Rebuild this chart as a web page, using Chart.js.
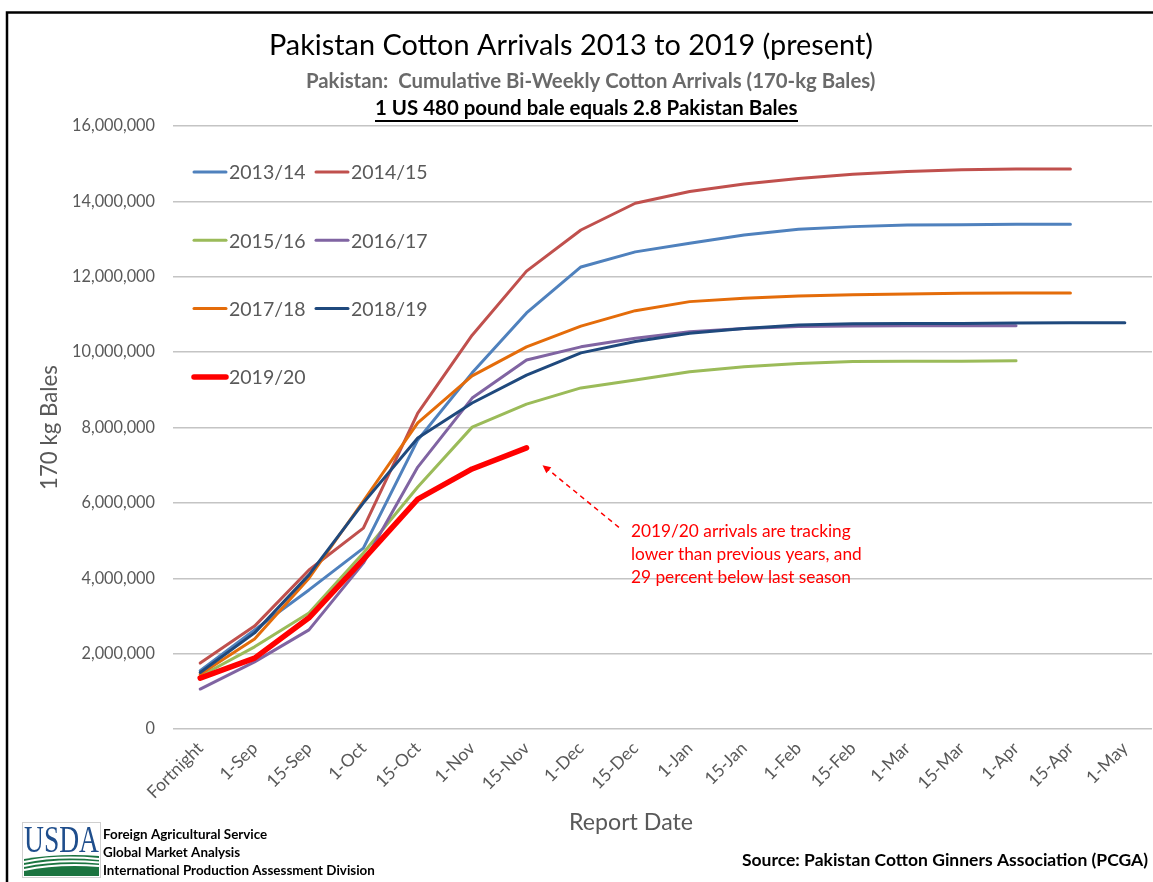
<!DOCTYPE html>
<html>
<head>
<meta charset="utf-8">
<script src="https://cdn.jsdelivr.net/npm/chart.js@4.4.1/dist/chart.umd.min.js"></script>
<style>
  html, body { margin: 0; padding: 0; background: #fff; }
  canvas { display: block; }
</style>
</head>
<body>
<canvas id="arrivalsChart" width="1153" height="882"></canvas>
<script>
// report dates (x categories)
const reportDates = ['Fortnight', '1-Sep', '15-Sep', '1-Oct', '15-Oct', '1-Nov', '15-Nov', '1-Dec',
  '15-Dec', '1-Jan', '15-Jan', '1-Feb', '15-Feb', '1-Mar', '15-Mar', '1-Apr', '15-Apr', '1-May'];

const seasons = ['2013/14', '2014/15', '2015/16', '2016/17', '2017/18', '2018/19', '2019/20'];

// cumulative arrivals, 170-kg bales
const arrivals1314 = [1550000, 2630000, 3690000, 4800000, 7670000, 9450000, 11040000, 12260000, 12660000,
  12890000, 13110000, 13260000, 13330000, 13370000, 13380000, 13390000, 13390000];
const arrivals1415 = [1750000, 2730000, 4220000, 5330000, 8380000, 10450000, 12150000, 13240000, 13950000,
  14260000, 14460000, 14610000, 14720000, 14790000, 14840000, 14860000, 14860000];
const arrivals1516 = [1400000, 2180000, 3080000, 4670000, 6420000, 8010000, 8620000, 9050000, 9260000,
  9480000, 9610000, 9700000, 9750000, 9760000, 9760000, 9770000];
const arrivals1617 = [1060000, 1780000, 2630000, 4400000, 6950000, 8780000, 9790000, 10140000, 10370000,
  10540000, 10630000, 10680000, 10690000, 10700000, 10700000, 10700000];
const arrivals1718 = [1450000, 2390000, 4000000, 6050000, 8120000, 9370000, 10140000, 10690000, 11100000,
  11340000, 11430000, 11490000, 11520000, 11540000, 11560000, 11570000, 11570000];
const arrivals1819 = [1500000, 2550000, 4090000, 6000000, 7720000, 8650000, 9390000, 9980000, 10280000,
  10500000, 10630000, 10720000, 10750000, 10760000, 10760000, 10770000, 10780000, 10780000];
const arrivals1920 = [1350000, 1880000, 2950000, 4500000, 6100000, 6900000, 7460000];

const yTicksMax = 16000000;
const yTicksStep = 2000000;

const seriesValues = [arrivals1314, arrivals1415, arrivals1516, arrivals1617, arrivals1718, arrivals1819, arrivals1920];
const lineColors = ['#4F81BD', '#C0504D', '#9BBB59', '#8064A2', '#E46C0A', '#1F497D', '#FF0000'];

const FONT = 'Lato, "Noto Sans", sans-serif';
const GREY = '#595959';

// size a font so the text fills the given width
function fitText(ctx, text, weight, width, family) {
  ctx.font = weight + ' 100px ' + (family || FONT);
  const size = 100 * width / ctx.measureText(text).width;
  ctx.font = weight + ' ' + size.toFixed(2) + 'px ' + (family || FONT);
  return size;
}

function drawUsdaLogo(ctx, x, y, w, h) {
  ctx.save();
  ctx.fillStyle = '#fff';
  ctx.fillRect(x, y, w, h);
  ctx.strokeStyle = '#CFCFCF';
  ctx.lineWidth = 1;
  ctx.strokeRect(x + 0.5, y + 0.5, w - 1, h - 1);

  ctx.save();
  ctx.translate(x + 2, y + 30);
  ctx.scale(1, 1.35);
  ctx.fillStyle = '#1F4E8C';
  ctx.textAlign = 'left';
  ctx.textBaseline = 'alphabetic';
  fitText(ctx, 'USDA', 'normal', w - 4, '"Liberation Serif", serif');
  ctx.fillText('USDA', 0, 0);
  ctx.restore();

  // green fields
  ctx.fillStyle = '#1B7440';
  ctx.beginPath();
  ctx.moveTo(x + 2, y + h - 2);
  ctx.lineTo(x + 2, y + 37);
  ctx.quadraticCurveTo(x + w * 0.5, y + 31, x + w - 2, y + 34);
  ctx.lineTo(x + w - 2, y + h - 2);
  ctx.closePath();
  ctx.fill();
  ctx.strokeStyle = '#fff';
  ctx.lineWidth = 2;
  for (let k = 0; k < 3; k++) {
    ctx.beginPath();
    ctx.moveTo(x + 2, y + 40 + k * 4);
    ctx.quadraticCurveTo(x + w * 0.45, y + 33 + k * 4, x + w - 2, y + 37 + k * 3.5);
    ctx.stroke();
  }
  ctx.restore();
}

const decorations = {
  id: 'decorations',
  afterDraw(chart) {
    const ctx = chart.ctx;
    const area = chart.chartArea;
    const xs = chart.scales.x;
    const ys = chart.scales.y;
    ctx.save();

    // frame
    ctx.strokeStyle = '#000';
    ctx.lineWidth = 2.5;
    ctx.beginPath();
    ctx.moveTo(7, 882);
    ctx.lineTo(7, 12.5);
    ctx.lineTo(1153, 12.5);
    ctx.stroke();

    // titles
    ctx.textBaseline = 'alphabetic';
    ctx.textAlign = 'left';
    ctx.fillStyle = '#000';
    fitText(ctx, 'Pakistan Cotton Arrivals 2013 to 2019 (present)', 'normal', 604);
    ctx.fillText('Pakistan Cotton Arrivals 2013 to 2019 (present)', 269, 55);

    ctx.fillStyle = '#6A6A6A';
    fitText(ctx, 'Pakistan:  Cumulative Bi-Weekly Cotton Arrivals (170-kg Bales)', 'bold', 570);
    ctx.fillText('Pakistan:  Cumulative Bi-Weekly Cotton Arrivals (170-kg Bales)', 306, 88);

    ctx.fillStyle = '#000';
    fitText(ctx, '1 US 480 pound bale equals 2.8 Pakistan Bales', 'bold', 423);
    ctx.fillText('1 US 480 pound bale equals 2.8 Pakistan Bales', 375, 115);
    ctx.fillRect(375, 120, 423, 2);

    // axis titles
    ctx.fillStyle = GREY;
    ctx.textAlign = 'center';
    fitText(ctx, 'Report Date', 'normal', 124);
    ctx.fillText('Report Date', 631, 830);
    ctx.save();
    ctx.translate(57, (area.top + area.bottom) / 2);
    ctx.rotate(-Math.PI / 2);
    fitText(ctx, '170 kg Bales', 'normal', 125);
    ctx.fillText('170 kg Bales', 0, 0);
    ctx.restore();

    // legend, two columns inside the plot
    ctx.textAlign = 'left';
    ctx.textBaseline = 'middle';
    ctx.font = '19.5px ' + FONT;
    chart.data.datasets.forEach((ds, i) => {
      const col = i % 2;
      const row = Math.floor(i / 2);
      const lx = area.left + 21 + col * 122;
      const ly = area.top + 46 + row * 68.3;
      ctx.strokeStyle = ds.borderColor;
      ctx.lineWidth = ds.borderWidth;
      ctx.lineCap = 'round';
      ctx.beginPath();
      ctx.moveTo(lx, ly);
      ctx.lineTo(lx + 32, ly);
      ctx.stroke();
      ctx.fillStyle = GREY;
      ctx.fillText(ds.label, lx + 35, ly + 1);
    });

    // annotation arrow + note
    const hx = xs.getPixelForValue(6) + 16, hy = ys.getPixelForValue(7000000);
    const tx = xs.getPixelForValue(7) + 38, ty = ys.getPixelForValue(5350000);
    ctx.strokeStyle = '#FF0000';
    ctx.lineWidth = 1.5;
    ctx.setLineDash([5, 4]);
    ctx.lineCap = 'butt';
    ctx.beginPath();
    ctx.moveTo(tx, ty);
    ctx.lineTo(hx + 4, hy + 3);
    ctx.stroke();
    ctx.setLineDash([]);
    const ang = Math.atan2(hy - ty, hx - tx);
    ctx.fillStyle = '#FF0000';
    ctx.beginPath();
    ctx.moveTo(hx, hy);
    ctx.lineTo(hx - 9 * Math.cos(ang - 0.45), hy - 9 * Math.sin(ang - 0.45));
    ctx.lineTo(hx - 9 * Math.cos(ang + 0.45), hy - 9 * Math.sin(ang + 0.45));
    ctx.closePath();
    ctx.fill();

    ctx.textBaseline = 'alphabetic';
    const noteX = xs.getPixelForValue(7) + 50;
    const noteY = ys.getPixelForValue(5100000);
    fitText(ctx, '2019/20 arrivals are tracking', 'normal', 220);
    ctx.fillText('2019/20 arrivals are tracking', noteX, noteY);
    ctx.fillText('lower than previous years, and', noteX, noteY + 23);
    ctx.fillText('29 percent below last season', noteX, noteY + 46);

    // footer
    drawUsdaLogo(ctx, 22, 822, 79, 56);
    ctx.fillStyle = '#000';
    fitText(ctx, 'International Production Assessment Division', 'bold', 272);
    ctx.fillText('Foreign Agricultural Service', 103, 839);
    ctx.fillText('Global Market Analysis', 103, 857);
    ctx.fillText('International Production Assessment Division', 103, 875);

    ctx.textAlign = 'right';
    fitText(ctx, 'Source: Pakistan Cotton Ginners Association (PCGA)', 'bold', 406);
    ctx.fillText('Source: Pakistan Cotton Ginners Association (PCGA)', 1148, 866);

    ctx.restore();
  }
};

const ctx = document.getElementById('arrivalsChart').getContext('2d');
const arrivalsChart = new Chart(ctx, {
  type: 'line',
  data: {
    labels: reportDates,
    datasets: seasons.map((season, i) => ({
      label: season,
      data: seriesValues[i],
      borderColor: lineColors[i],
      backgroundColor: lineColors[i],
      borderWidth: i === seasons.length - 1 ? 5.5 : 3,
      pointRadius: 0,
      tension: 0,
      fill: false,
      borderCapStyle: 'round',
      borderJoinStyle: 'round',
      order: seasons.length - 1 - i
    }))
  },
  options: {
    responsive: false,
    animation: false,
    layout: { padding: { top: 126, right: 1, bottom: 0, left: 0 } },
    plugins: {
      legend: { display: false },
      tooltip: { enabled: false }
    },
    scales: {
      x: {
        offset: true,
        grid: { display: false, drawTicks: false, offset: true },
        border: { display: false },
        ticks: {
          color: GREY,
          font: { family: FONT, size: 17.5 },
          minRotation: 45,
          maxRotation: 45,
          autoSkip: false,
          padding: 9
        },
        afterFit(scale) { scale.height = 153; }
      },
      y: {
        min: 0,
        max: yTicksMax,
        grid: { color: '#C4C4C4', lineWidth: 1.5, drawTicks: false },
        border: { display: false },
        ticks: {
          stepSize: yTicksStep,
          color: GREY,
          font: { family: FONT, size: 16.3 },
          padding: 18,
          callback: v => v.toLocaleString('en-US')
        },
        afterFit(scale) { scale.width = 173; }
      }
    }
  },
  plugins: [decorations]
});
</script>
</body>
</html>
